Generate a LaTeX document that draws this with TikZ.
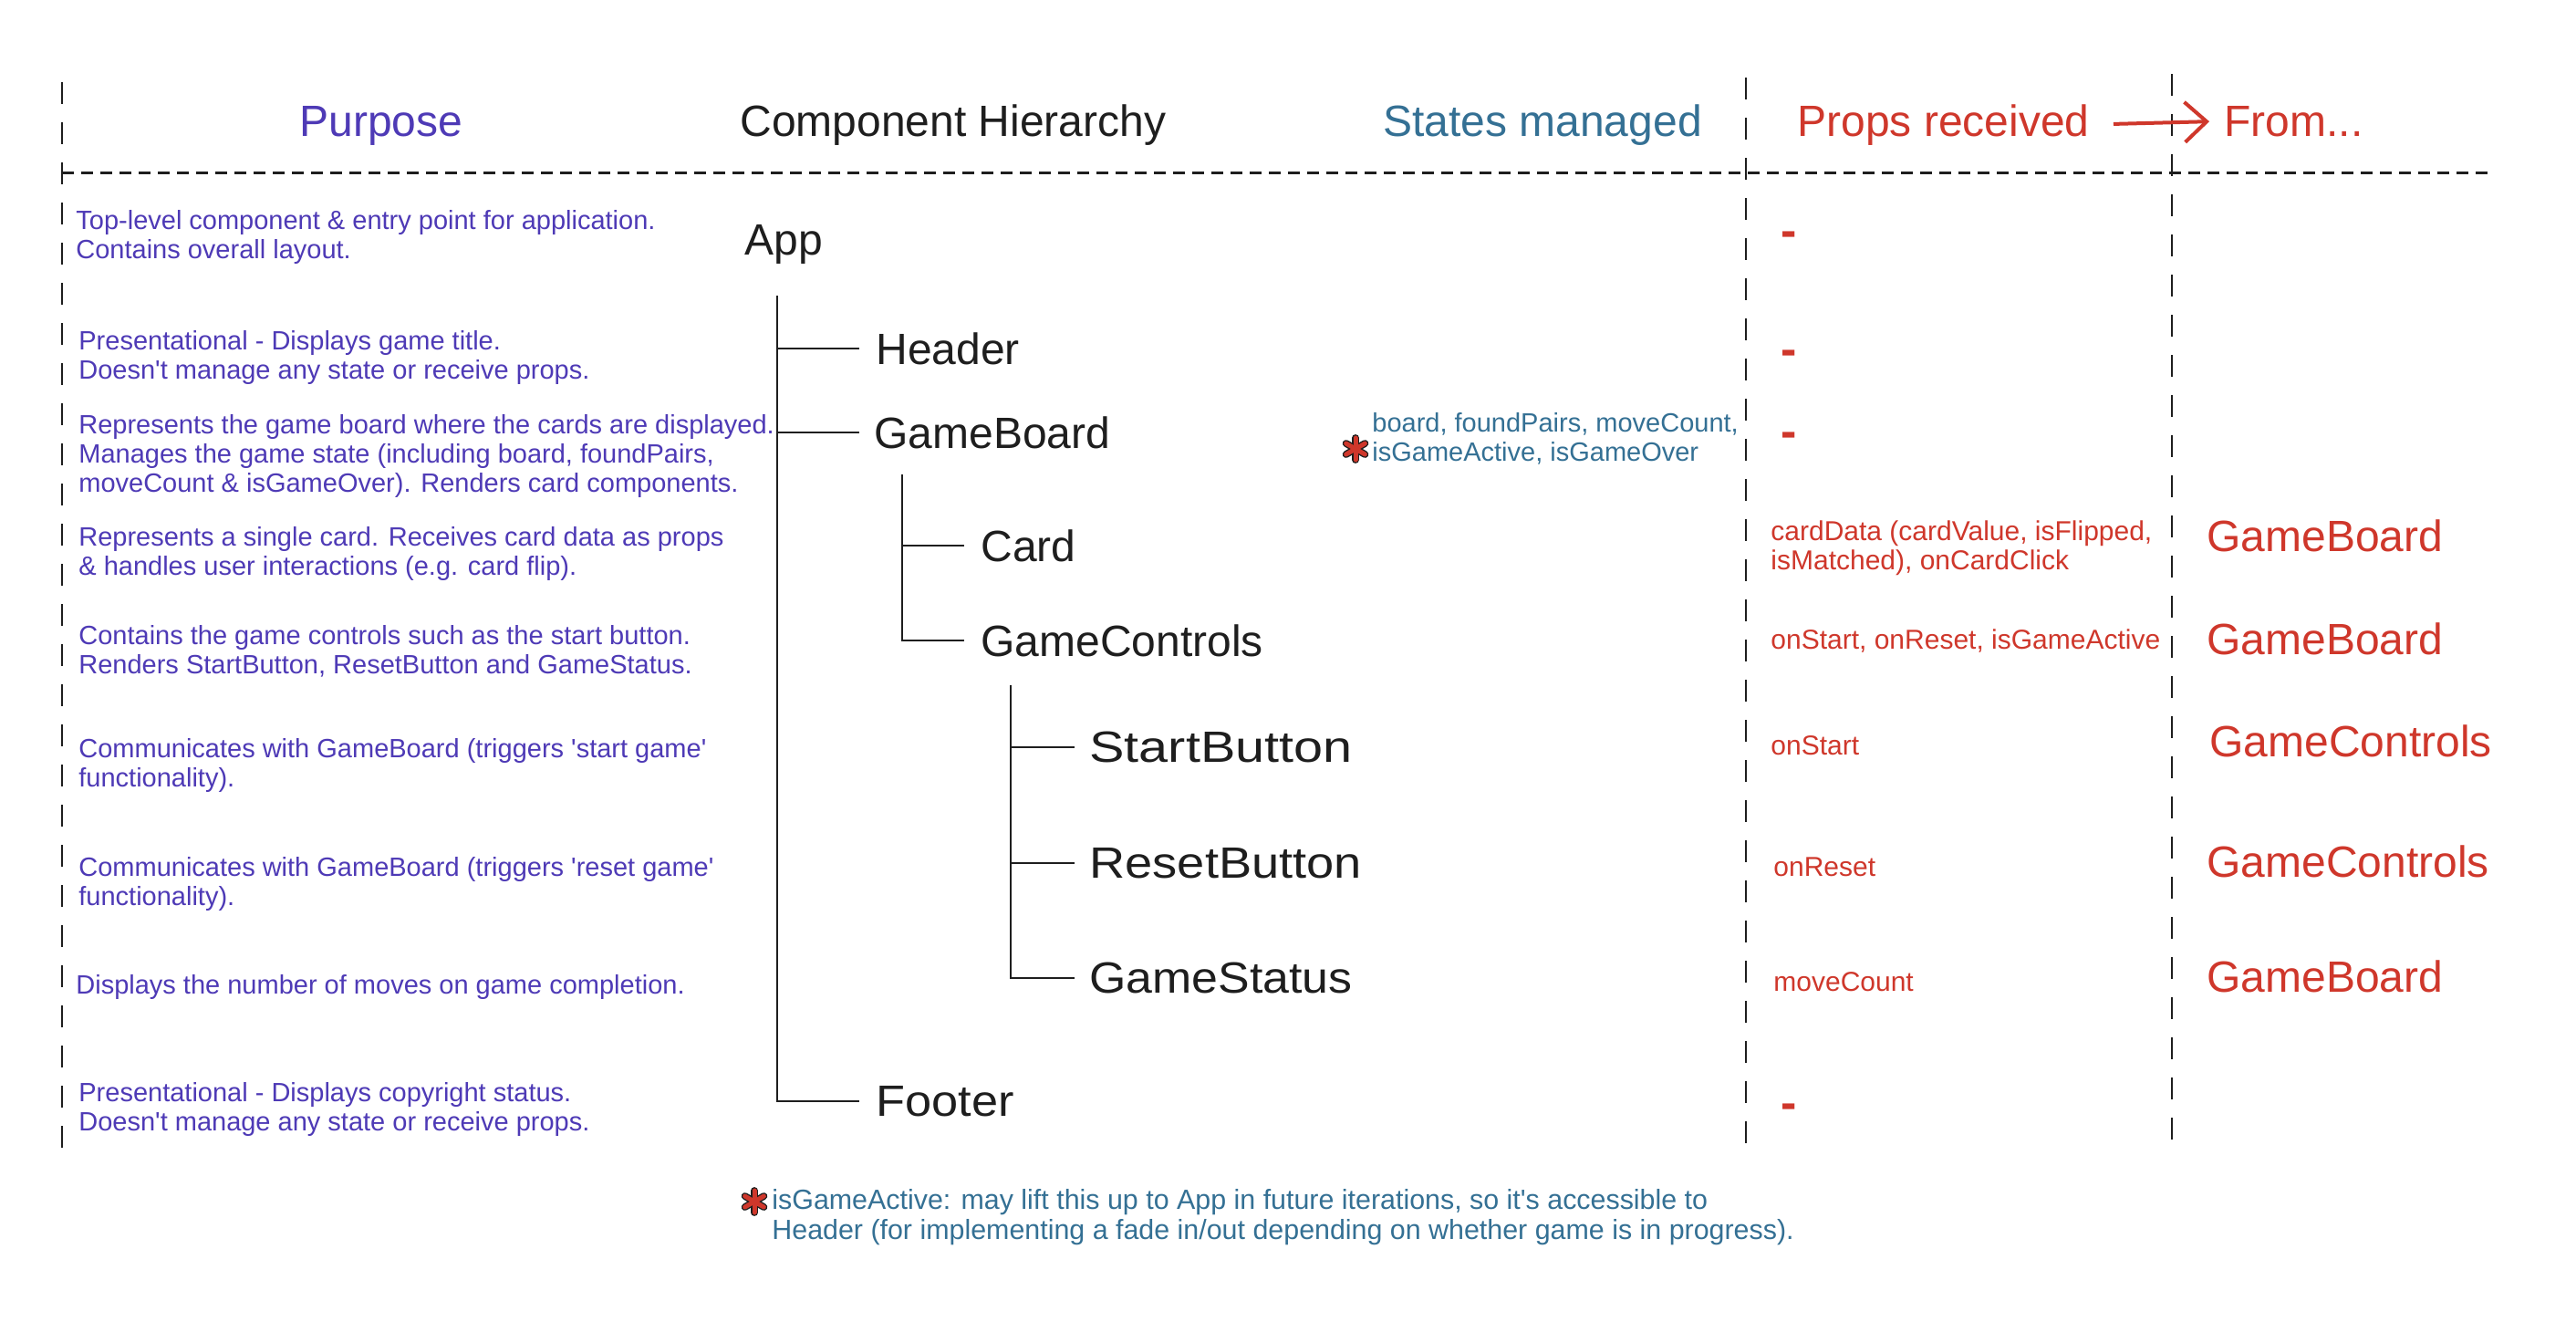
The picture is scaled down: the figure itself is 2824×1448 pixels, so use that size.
\documentclass[tikz,border=0pt]{standalone}
\usepackage{fontspec}
\setmainfont{Liberation Sans}
\usetikzlibrary{arrows.meta,calc}
\definecolor{purp}{RGB}{78,58,182}
\definecolor{teal2}{RGB}{52,112,148}
\definecolor{red2}{RGB}{207,55,43}
\definecolor{ink}{RGB}{30,30,30}
\tikzset{
  asterisk/.pic={
    \foreach \a in {90,30,-30}{\draw[line width=3.9pt, ink, line cap=round] (\a:12) -- (\a+180:12);}
    \foreach \a in {90,30,-30}{\draw[line width=2.5pt, red2, line cap=round] (\a:12) -- (\a+180:12);}
  }
}
\newcommand{\sq}{\textquotesingle}
\begin{document}
\begin{tikzpicture}[x=0.5pt,y=-0.5pt,
  bigfont/.style={font=\fontsize{24}{28}\selectfont, inner sep=0pt},
  head/.style={bigfont, anchor=base},
  headw/.style={bigfont, anchor=base west},
  cname/.style={bigfont, anchor=west, text=ink},
  wide/.style={transform shape, xscale=#1},
  fromname/.style={bigfont, anchor=west, text=red2},
  small/.style={font=\fontsize{14.5}{16}\selectfont, inner sep=0pt, align=left, anchor=west},
  desc/.style={small, text=purp},
  statetxt/.style={small, text=teal2},
  proptxt/.style={small, font=\fontsize{15}{16}\selectfont, text=red2},
  notetxt/.style={small, font=\fontsize{15.2}{16.2}\selectfont, text=teal2},
  nilmark/.style={font=\fontsize{26}{30}\selectfont\bfseries, text=red2, inner sep=0pt},
  vdash/.style={draw=ink, line width=1.2pt, dash pattern=on 12pt off 10pt},
  hdash/.style={draw=ink, line width=1.5pt, dash pattern=on 6.5pt off 4pt},
  tree/.style={draw=ink, line width=0.9pt},
]
\path[use as bounding box, fill=white] (0,0) rectangle (2824,1448);

% grid lines
\coordinate (v1top) at (68,90);   \coordinate (v1bot) at (68,1261);
\coordinate (v2top) at (1914,85); \coordinate (v2bot) at (1914,1266);
\coordinate (v3top) at (2381,81); \coordinate (v3bot) at (2381,1261);
\coordinate (hl) at (68,189);     \coordinate (hr) at (2729,189);
\draw[vdash] (v1top) -- (v1bot);
\draw[vdash] (v2top) -- (v2bot);
\draw[vdash] (v3top) -- (v3bot);
\draw[hdash] (hl) -- (hr);

% headers
\node[head, text=purp] (hpurpose) at (418,149) {Purpose};
\node[head, text=ink] (hcomp) at (1045,149) {Component Hierarchy};
\node[head, text=teal2] (hstates) at (1691,149) {States managed};
\node[headw, text=red2] (hprops) at (1970,149) {Props received};
\node[headw, text=red2] (hfrom) at (2438,149) {From...};
\draw[red2, line width=2pt, shorten <=13pt, shorten >=8pt,
      -{Straight Barb[length=12pt,width=22pt,line width=2pt]}] (hprops.east) -- (hfrom.west);

% purpose descriptions
\node[desc] (d1) at (83,260) {Top-level component \& entry point for application.\\Contains overall layout.};
\node[desc] (d2) at (86,392) {Presentational - Displays game title.\\Doesn\sq t manage any state or receive props.};
\node[desc] (d3) at (86,500) {Represents the game board where the cards are displayed.\\Manages the game state (including board, foundPairs,\\moveCount \& isGameOver). Renders card components.};
\node[desc] (d4) at (86,607) {Represents a single card. Receives card data as props\\\& handles user interactions (e.g. card flip).};
\node[desc] (d5) at (86,714) {Contains the game controls such as the start button.\\Renders StartButton, ResetButton and GameStatus.};
\node[desc] (d6) at (86,839) {Communicates with GameBoard (triggers \sq start game\sq\\functionality).};
\node[desc] (d7) at (86,969) {Communicates with GameBoard (triggers \sq reset game\sq\\functionality).};
\node[desc] (d8) at (83,1082) {Displays the number of moves on game completion.};
\node[desc] (d9) at (86,1216) {Presentational - Displays copyright status.\\Doesn\sq t manage any state or receive props.};

% hierarchy
\node[cname] (app) at (816,268) {App};
\node[cname] (header) at (960,382) {Header};
\node[cname] (gameboard) at (958,474) {GameBoard};
\node[cname] (card) at (1075,598) {Card};
\node[cname] (gamecontrols) at (1075,702) {GameControls};
\node[cname, wide=1.2] (startbutton) at (1194,819) {StartButton};
\node[cname, wide=1.13] (resetbutton) at (1194,946) {ResetButton};
\node[cname, wide=1.08] (gamestatus) at (1194,1072) {GameStatus};
\node[cname, wide=1.09] (footer) at (960,1207) {Footer};

\coordinate (t0) at (852,324);
\coordinate (t1) at (989,520);
\coordinate (t2) at (1108,751);
\draw[tree] (t0) |- ($(footer.west)+(-18,0)$);
\draw[tree] (t0 |- header.west) -- ($(header.west)+(-18,0)$);
\draw[tree] (t0 |- gameboard.west) -- ($(gameboard.west)+(-16,0)$);
\draw[tree] (t1) |- ($(gamecontrols.west)+(-18,0)$);
\draw[tree] (t1 |- card.west) -- ($(card.west)+(-18,0)$);
\draw[tree] (t2) |- ($(gamestatus.west)+(-16,0)$);
\draw[tree] (t2 |- startbutton.west) -- ($(startbutton.west)+(-16,0)$);
\draw[tree] (t2 |- resetbutton.west) -- ($(resetbutton.west)+(-16,0)$);

% states
\node[statetxt] (states) at (1504,481) {board, foundPairs, moveCount,\\isGameActive, isGameOver};
\pic at (1486,492) {asterisk};

% props received
\node[nilmark] (nil1) at (1961,262) {-};
\node[nilmark] (nil2) at (1961,392) {-};
\node[nilmark] (nil3) at (1961,482) {-};
\node[nilmark] (nil4) at (1961,1218) {-};
\node[proptxt] (pcard) at (1941,601) {cardData (cardValue, isFlipped,\\isMatched), onCardClick};
\node[proptxt] (pcontrols) at (1941,703) {onStart, onReset, isGameActive};
\node[proptxt] (pstart) at (1941,817) {onStart};
\node[proptxt] (preset) at (1944,950) {onReset};
\node[proptxt] (pstatus) at (1944,1076) {moveCount};

% from
\node[fromname] (fcard) at (2419,587) {GameBoard};
\node[fromname] (fcontrols) at (2419,700) {GameBoard};
\node[fromname] (fstart) at (2422,812) {GameControls};
\node[fromname] (freset) at (2419,944) {GameControls};
\node[fromname] (fstatus) at (2419,1070) {GameBoard};

% footnote
\pic at (827,1317) {asterisk};
\node[notetxt] (note) at (846,1334) {isGameActive: may lift this up to App in future iterations, so it\sq s accessible to\\Header (for implementing a fade in/out depending on whether game is in progress).};
\end{tikzpicture}
\end{document}
